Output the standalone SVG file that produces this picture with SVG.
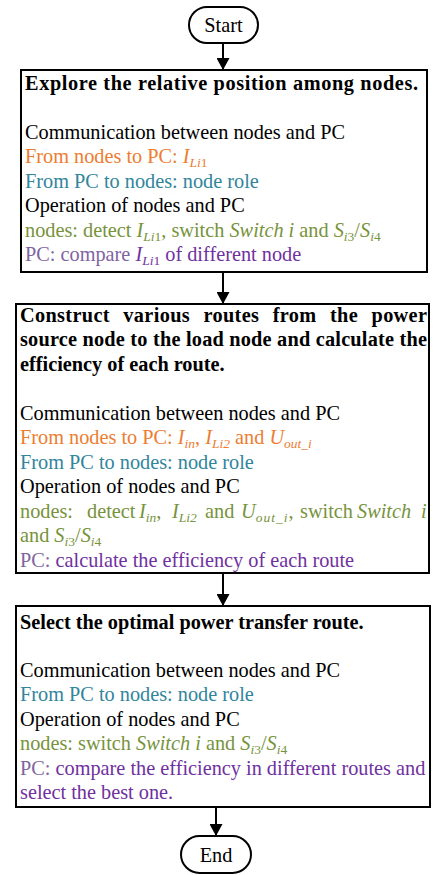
<svg xmlns="http://www.w3.org/2000/svg" width="436" height="875" viewBox="0 0 436 875">
<style>
.t{font-family:"Liberation Serif","Times New Roman",serif;font-size:20.3px;fill:#000}
.b{font-weight:bold}
.i{font-style:italic}
.s{font-size:13.5px}
.box{fill:#fff;stroke:#000;stroke-width:2}
.term{fill:#fff;stroke:#000;stroke-width:2}
.or{fill:#ED7D31}
.te{fill:#31859C}
.gr{fill:#77933C}
.pl{fill:#8064A2}
.pd{fill:#7030A0}
.conn line{stroke:#000;stroke-width:2}
</style>
<defs>
<marker id="ah" markerUnits="userSpaceOnUse" markerWidth="13" markerHeight="13" refX="12" refY="6.5" orient="auto">
<path d="M0,0 L12,6.5 L0,13 z" fill="#000"/>
</marker>
</defs>
<g id="connectors" class="conn">
<line x1="223" y1="43" x2="223" y2="70" marker-end="url(#ah)"/>
<line x1="223" y1="272" x2="223" y2="304" marker-end="url(#ah)"/>
<line x1="223" y1="573" x2="223" y2="606" marker-end="url(#ah)"/>
<line x1="216" y1="807" x2="216" y2="836" marker-end="url(#ah)"/>
</g>
<g id="start">
<rect class="term" x="189" y="7" width="69" height="36" rx="18" ry="18"/>
<text class="t" x="223.5" y="32" text-anchor="middle">Start</text>
</g>
<g id="step1">
<rect class="box" x="21" y="70" width="406" height="202"/>
<text class="t b" x="25" y="89.5" textLength="393" lengthAdjust="spacing">Explore the relative position among nodes.</text>
<text class="t" x="25" y="138.5">Communication between nodes and PC</text>
<text class="t or" x="25" y="163">From nodes to PC: <tspan class="i">I</tspan><tspan class="s" dy="4"><tspan class="i">Li</tspan>1</tspan></text>
<text class="t te" x="25" y="187.5">From PC to nodes: node role</text>
<text class="t" x="25" y="212">Operation of nodes and PC</text>
<text class="t gr" x="25" y="236.5">nodes: detect <tspan class="i">I</tspan><tspan class="s" dy="4"><tspan class="i">Li</tspan>1</tspan><tspan dy="-4">, switch </tspan><tspan class="i">Switch i</tspan> and <tspan class="i">S</tspan><tspan class="s" dy="4"><tspan class="i">i</tspan>3</tspan><tspan dy="-4">/</tspan><tspan class="i">S</tspan><tspan class="s" dy="4"><tspan class="i">i</tspan>4</tspan></text>
<text class="t pl" x="25" y="261">PC: compare <tspan class="i pd">I</tspan><tspan class="s pd" dy="4"><tspan class="i">Li</tspan>1</tspan><tspan class="pd" dy="-4"> of different node</tspan></text>
</g>
<g id="step2">
<rect class="box" x="16" y="304" width="413" height="269"/>
<text class="t b" x="20" y="321.5" textLength="407" lengthAdjust="spacing" word-spacing="8">Construct various routes from the power</text>
<text class="t b" x="20" y="346" textLength="407" lengthAdjust="spacing">source node to the load node and calculate the</text>
<text class="t b" x="20" y="370.5">efficiency of each route.</text>
<text class="t" x="20" y="419.5">Communication between nodes and PC</text>
<text class="t or" x="20" y="444">From nodes to PC: <tspan class="i">I</tspan><tspan class="s i" dy="4">in</tspan><tspan dy="-4">, </tspan><tspan class="i">I</tspan><tspan class="s i" dy="4">Li2</tspan><tspan dy="-4"> and </tspan><tspan class="i">U</tspan><tspan class="s i" dy="4">out_i</tspan></text>
<text class="t te" x="20" y="468.5">From PC to nodes: node role</text>
<text class="t" x="20" y="493">Operation of nodes and PC</text>
<text class="t gr" y="517.5"><tspan x="20">nodes:</tspan><tspan x="87">detect</tspan><tspan x="139" class="i">I</tspan><tspan class="s i" dy="4">in</tspan><tspan dy="-4">,</tspan><tspan x="172" class="i">I</tspan><tspan class="s i" dy="4">Li2</tspan><tspan x="205" dy="-4">and</tspan><tspan x="241" class="i">U</tspan><tspan class="s i" dy="4" letter-spacing="1">out_i</tspan><tspan dy="-4">,</tspan><tspan x="300">switch</tspan><tspan x="357" class="i">Switch</tspan><tspan x="421" class="i">i</tspan></text>
<text class="t gr" x="20" y="542">and <tspan class="i">S</tspan><tspan class="s" dy="4"><tspan class="i">i</tspan>3</tspan><tspan dy="-4">/</tspan><tspan class="i">S</tspan><tspan class="s" dy="4"><tspan class="i">i</tspan>4</tspan></text>
<text class="t pl" x="20" y="566.5">PC: <tspan class="pd">calculate the efficiency of each route</tspan></text>
</g>
<g id="step3">
<rect class="box" x="16" y="606" width="414" height="201"/>
<text class="t b" x="20" y="628.5">Select the optimal power transfer route.</text>
<text class="t" x="20" y="677">Communication between nodes and PC</text>
<text class="t te" x="20" y="701">From PC to nodes: node role</text>
<text class="t" x="20" y="725.5">Operation of nodes and PC</text>
<text class="t gr" x="20" y="750">nodes: switch <tspan class="i">Switch i</tspan> and <tspan class="i">S</tspan><tspan class="s" dy="4"><tspan class="i">i</tspan>3</tspan><tspan dy="-4">/</tspan><tspan class="i">S</tspan><tspan class="s" dy="4"><tspan class="i">i</tspan>4</tspan></text>
<text class="t pl" x="20" y="774.5">PC: <tspan class="pd">compare the efficiency in different routes and</tspan></text>
<text class="t pd" x="20" y="799">select the best one.</text>
</g>
<g id="end">
<rect class="term" x="181" y="836" width="70" height="37" rx="18.5" ry="18.5"/>
<text class="t" x="216" y="861.5" text-anchor="middle">End</text>
</g>
</svg>
